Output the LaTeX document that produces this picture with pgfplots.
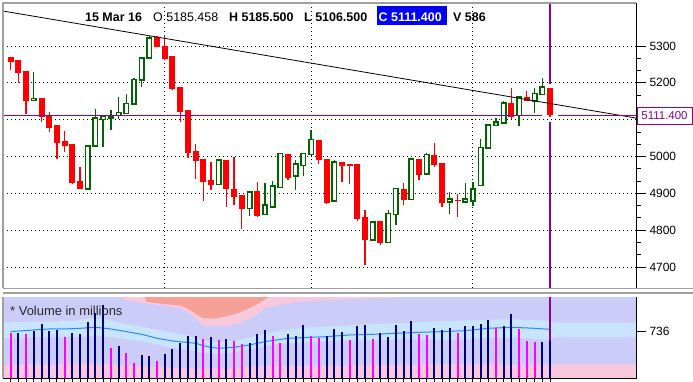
\documentclass[border=0pt]{standalone}
\usepackage{fontspec}
\setmainfont{Liberation Sans}
\usepackage{pgfplots}
\usepackage{pgfplotstable}
\pgfplotsset{compat=1.18}
\definecolor{cred}{RGB}{255,0,0}
\definecolor{cgreen}{RGB}{0,100,0}
\definecolor{cpurple}{RGB}{140,0,140}
\definecolor{lav}{RGB}{204,204,248}
\definecolor{lpink}{RGB}{248,200,220}
\definecolor{salmon}{RGB}{245,160,150}
\definecolor{lblue}{RGB}{200,228,255}
\definecolor{mablue}{RGB}{40,140,255}
\definecolor{vnavy}{RGB}{0,0,128}
\definecolor{vmag}{RGB}{255,0,255}
\definecolor{framegray}{RGB}{160,160,160}
\definecolor{cboxblue}{RGB}{0,0,255}

\pgfplotstableread{
i o h l c
0 5269 5269 5235 5257
1 5262 5262 5199 5228
2 5232 5232 5115 5152
3 5152 5229 5152 5158
4 5159 5159 5095 5108
5 5111 5121 5067 5078
6 5086 5086 4994 5038
7 5042 5069 5013 5029
8 5034 5034 4925 4929
9 4933 4972 4911 4911
10 4912 5029 4912 5029
11 5028 5129 5028 5104
12 5101 5110 5027 5110
13 5104 5126 5072 5107
14 5111 5161 5101 5120
15 5117 5169 5117 5144
16 5143 5212 5143 5209
17 5208 5268 5188 5268
18 5267 5327 5267 5321
19 5325 5328 5296 5296
20 5300 5331 5262 5266
21 5273 5273 5180 5182
22 5189 5189 5094 5122
23 5126 5126 4997 5010
24 5015 5034 4939 4988
25 4993 4993 4880 4931
26 4936 4985 4909 4922
27 4924 4993 4924 4990
28 4990 4990 4863 4911
29 4913 4999 4869 4891
30 4895 4895 4803 4857
31 4859 4904 4839 4904
32 4906 4930 4836 4839
33 4843 4927 4843 4868
34 4863 4933 4863 4920
35 4916 5008 4916 5008
36 5008 5008 4936 4943
37 4947 4990 4909 4979
38 4976 5008 4947 5008
39 5005 5073 5005 5046
40 5046 5046 4981 4990
41 4994 4994 4870 4874
42 4879 4990 4879 4985
43 4984 4984 4931 4975
44 4979 4979 4925 4975
45 4979 4979 4826 4829
46 4835 4855 4706 4773
47 4773 4823 4770 4823
48 4825 4825 4760 4764
49 4767 4854 4767 4845
50 4843 4913 4814 4913
51 4913 4927 4868 4882
52 4883 4994 4883 4994
53 4994 4994 4936 4949
54 4952 5009 4950 5005
55 5005 5036 4971 4977
56 4982 4982 4862 4873
57 4877 4903 4845 4884
58 4883 4897 4836 4881
59 4877 4927 4877 4884
60 4880 4932 4866 4912
61 4921 5048 4921 5025
62 5023 5085 5023 5085
63 5084 5105 5084 5094
64 5091 5150 5091 5145
65 5145 5185 5103 5107
66 5111 5162 5082 5162
67 5162 5179 5150 5150
68 5150 5185 5118 5171
69 5168 5214 5168 5189
70 5185.458 5185.5 5106.5 5111.4
}\candles

\begin{document}
\begin{tikzpicture}
\useasboundingbox (0,0) rectangle (693bp,-382bp);
\fill[white] (0,0) rectangle (693bp,-382bp);
% ---------------- price panel ----------------
\begin{axis}[
  at={(3bp,-3bp)}, anchor=north west, scale only axis,
  width=633bp, height=285bp,
  xmin=-1, xmax=81.17, ymin=4643, ymax=5416.8,
  clip mode=individual,
  axis line style={draw=none},
  ytick={4700,4800,...,5300}, minor y tick num=2,
  yticklabels={4700,4800,4900,5000,{},5200,5300},
  ytick pos=right, yticklabel pos=right,
  tick align=outside, major tick length=10bp, minor tick length=5bp,
  tick style={black, line width=0.9bp},
  xtick={20,39,60}, xticklabels={}, xtick style={draw=none},
  xmajorgrids, ymajorgrids,
  major grid style={black, line width=1bp, dash pattern=on 1bp off 3bp},
  /pgf/number format/assume math mode=true,
  /pgf/number format/1000 sep={},
  yticklabel style={font=\fontsize{12}{12}\selectfont, text=black},
]
\pgfplotstablegetrowsof{\candles}
\pgfmathtruncatemacro{\lastrow}{\pgfplotsretval-1}
\pgfplotsforeachungrouped \k in {0,...,\lastrow}{%
  \pgfplotstablegetelem{\k}{i}\of\candles \edef\ci{\pgfplotsretval}%
  \pgfplotstablegetelem{\k}{o}\of\candles \edef\co{\pgfplotsretval}%
  \pgfplotstablegetelem{\k}{h}\of\candles \edef\ch{\pgfplotsretval}%
  \pgfplotstablegetelem{\k}{l}\of\candles \edef\cl{\pgfplotsretval}%
  \pgfplotstablegetelem{\k}{c}\of\candles \edef\cc{\pgfplotsretval}%
  \pgfmathtruncatemacro{\up}{\cc>\co ? 1 : 0}%
  \ifnum\up=1
    \pgfmathsetmacro{\xa}{\ci-0.286}\pgfmathsetmacro{\xb}{\ci+0.286}%
    \edef\tmp{\noexpand\addplot[cgreen, line width=1.3bp] coordinates {(\ci,\cl) (\ci,\ch)};%
      \noexpand\addplot[draw=cgreen, fill=white, line width=1.6bp] coordinates {(\xa,\co) (\xb,\co) (\xb,\cc) (\xa,\cc)} --cycle;}%
  \else
    \pgfmathsetmacro{\xa}{\ci-0.39}\pgfmathsetmacro{\xb}{\ci+0.39}%
    \edef\tmp{\noexpand\addplot[cred, line width=1.3bp] coordinates {(\ci,\cl) (\ci,\ch)};%
      \noexpand\addplot[draw=none, fill=cred] coordinates {(\xa,\co) (\xb,\co) (\xb,\cc) (\xa,\cc)} --cycle;}%
  \fi
  \tmp
}
\addplot[black, line width=0.8bp] coordinates {(-1,5395) (81.17,5104.5)};
\addplot[draw=cpurple, line width=1.2bp] coordinates {(-1,5111.4) (69.0,5111.4)};
\addplot[draw=cpurple, line width=1.2bp] coordinates {(71.1,5111.4) (81.17,5111.4)};
\addplot[draw=cpurple, line width=1.2bp] coordinates {(70,5416.8) (70,5197)};
\addplot[draw=cpurple, line width=1.2bp] coordinates {(70,5094) (70,4643)};
\draw[framegray, line width=1.3bp] (rel axis cs:0,0) -- (rel axis cs:0,1) -- (rel axis cs:1,1);
\draw[black, line width=1bp] (rel axis cs:1,1) -- (rel axis cs:1,0);
\end{axis}
% ---------------- volume panel ----------------
\begin{axis}[
  at={(3bp,-297bp)}, anchor=north west, scale only axis,
  width=633bp, height=81.3bp,
  xmin=-1, xmax=81.17, ymin=0, ymax=1273,
  clip mode=individual,
  axis line style={draw=none},
  axis background/.style={fill=lav},
  xtick={0,...,70}, xticklabels={}, xtick pos=bottom,
  ytick=\empty, extra y ticks={736},
  extra y tick style={major tick length=10bp},
  ytick pos=right, yticklabel pos=right,
  tick align=outside, major tick length=3.5bp,
  tick style={black, line width=0.9bp},
  /pgf/number format/assume math mode=true,
  yticklabel style={font=\fontsize{12}{12}\selectfont, text=black},
]
\addplot[fill=lpink, draw=none] coordinates {(14.6,1273) (14.6,1230) (16,1200) (17.6,1175) (19.3,1150) (22,1095) (23,1030) (24.1,930) (25,820) (28.4,820) (29.7,870) (31,930) (32.3,1030) (33.2,1110) (34.9,1150) (37.5,1200) (42,1227) (44,1242) (49.2,1262) (50,1273)} --cycle;
\addplot[fill=salmon, draw=none] coordinates {(17.4,1273) (17.6,1200) (18.9,1175) (22,1140) (22.8,1100) (23.7,1040) (24.1,1000) (25,940) (26.7,940) (28.4,980) (29.7,1030) (31,1100) (32.3,1180) (33.5,1273)} --cycle;
\addplot[fill=lblue, draw=none] coordinates {(-1,877) (0,877) (3,887) (8.5,898) (9.8,940) (12,940) (12.9,903) (15.9,825) (18,783) (20.2,731) (22.4,679) (24.5,611) (26.3,574) (28.9,585) (31,637) (33.2,705) (34.5,731) (38,793) (42.3,820) (46.6,846) (51.8,872) (54.4,887) (61.3,914) (64.8,924) (70,900) (70.5,871) (81.17,871)
 (81.17,642) (70.5,642) (70,600) (65.6,637) (61.3,626) (57,600) (51.8,611) (46.6,590) (42.3,590) (38,564) (34.5,538) (33.2,506) (31,454) (28,392) (25.4,392) (22.4,454) (20.2,496) (18,559) (15.9,600) (11.6,663) (9.4,652) (3,637) (0,626) (-1,626)} --cycle;
\addplot[fill=lpink, draw=none] coordinates {(-1,0) (-1,209) (3,215) (12,224) (14,200) (18,185) (20,167) (23,157) (28.9,157) (31,183) (34,190) (38,195) (42,198) (50,210) (55,224) (63,224) (66,209) (70,209) (70.5,219) (81.17,219) (81.17,0)} --cycle;
\addplot[mablue, line width=1bp] coordinates {(0,731) (3,757) (5,773) (7,773) (9,783) (11,799) (13,773) (15,731) (17,689) (19,626) (21,585) (24,548) (25.5,496) (27,470) (29,485) (31,522) (33,574) (34.5,600) (36,626) (38,637) (41,652) (44,679) (47,689) (50,705) (53,720) (56,731) (59,746) (62,783) (65,799) (68,783) (70,767)};
\addplot[draw=cpurple, line width=1.2bp] coordinates {(70,0) (70,1273)};
\addplot[ycomb, vnavy, line width=2bp, mark=none] coordinates {(1,715) (3,746) (4,856) (5,746) (6,757) (8,715) (9,700) (10,882) (11,1028) (12,1148) (14,506) (17,365) (18,350) (20,381) (21,465) (22,548) (23,663) (24,663) (26,647) (28,616) (31,559) (32,700) (33,757) (36,697) (37,663) (38,835) (41,663) (42,775) (43,726) (45,820) (46,835) (48,710) (49,647) (50,835) (51,741) (52,898) (55,788) (56,757) (57,788) (59,820) (60,820) (61,851) (62,914) (64,820) (65,1007) (69,569) (70,586)};
\addplot[ycomb, vmag, line width=2bp, mark=none] coordinates {(0,715) (2,700) (7,647) (13,475) (15,402) (16,245) (19,277) (25,616) (27,600) (29,585) (30,543) (34,665) (35,559) (39,663) (40,637) (44,600) (47,616) (53,694) (54,679) (58,710) (63,788) (66,773) (67,585) (68,569)};
\draw[framegray, line width=1.3bp] (rel axis cs:0,0) -- (rel axis cs:0,1);
\draw[black, line width=1bp] (rel axis cs:0,0) -- (rel axis cs:1,0) -- (rel axis cs:1,1);
\end{axis}
% separators
\draw[framegray, line width=1.2bp] (3bp,-288.8bp) -- (693bp,-288.8bp);
\draw[framegray, line width=2.4bp] (3bp,-293.2bp) -- (693bp,-293.2bp);
% header
\begin{scope}[every node/.style={inner sep=0pt, anchor=base west, font=\fontsize{12.5}{13}\selectfont\bfseries}]
\node at (85bp,-21.5bp) {15 Mar 16};
\node[font=\fontsize{12.5}{13}\selectfont] at (153bp,-21.5bp) {O 5185.458};
\node at (229bp,-21.5bp) {H 5185.500};
\node at (304bp,-21.5bp) {L 5106.500};
\fill[cboxblue] (377bp,-6bp) rectangle (447bp,-25bp);
\node[text=white] at (378.5bp,-21.5bp) {C 5111.400};
\node at (453bp,-21.5bp) {V 586};
\end{scope}
\node[anchor=base west, inner sep=0pt, text={rgb,255:red,40;green,40;blue,40}, font=\fontsize{13}{13}\selectfont] at (10bp,-315bp) {* Volume in millions};
\node[draw=cpurple, line width=1bp, fill=white, text=cpurple, inner sep=0pt, minimum width=55bp, minimum height=17bp, font=\fontsize{11.5}{12}\selectfont] at (664.5bp,-116bp) {5111.400};
\end{tikzpicture}
\end{document}
